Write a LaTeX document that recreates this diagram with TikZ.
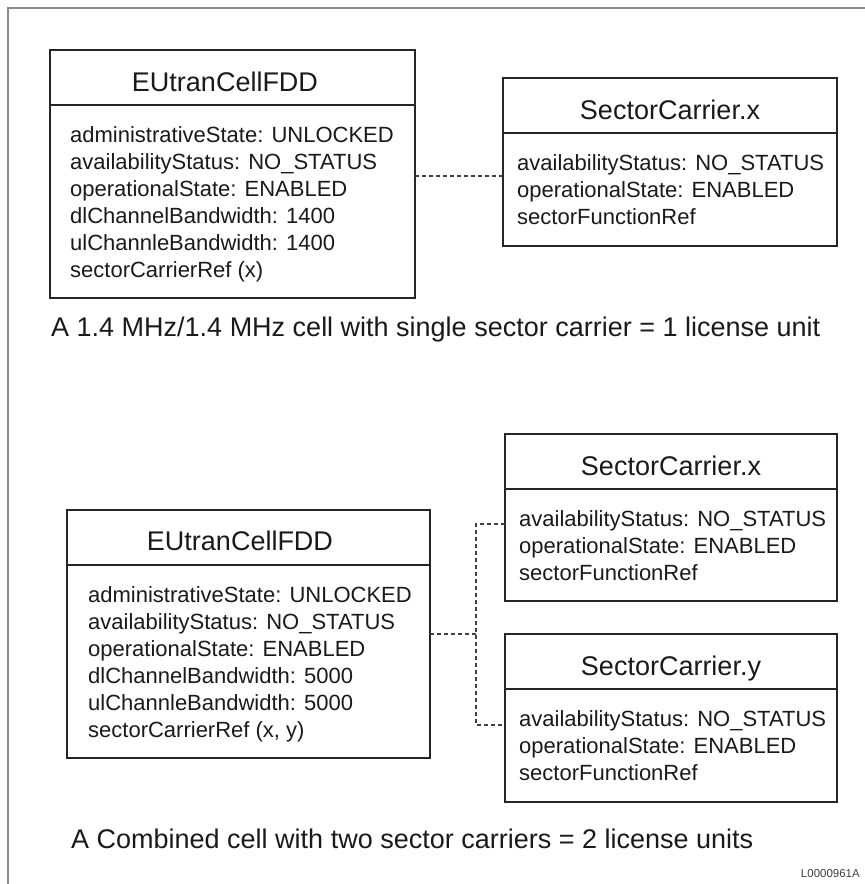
\documentclass[tikz,border=0pt]{standalone}
\usepackage{fontspec}
\setmainfont{Liberation Sans}
\usetikzlibrary{calc}

\definecolor{boxline}{HTML}{262626}
\definecolor{framec}{HTML}{8A8A8A}
\definecolor{linkc}{HTML}{404040}
\definecolor{txt}{HTML}{1A1A1A}

\tikzset{
  umlbox/.style={draw=boxline, line width=2pt, fill=white, inner sep=0pt,
    outer sep=0pt, anchor=north west},
  divider/.style={draw=boxline, line width=1.8pt},
  classname/.style={font=\fontsize{27}{31}\selectfont, text=txt, anchor=base, inner sep=0pt},
  attrs/.style={font=\fontsize{22}{27}\selectfont, text=txt, anchor=north west,
    align=left, inner sep=0pt},
  link/.style={draw=linkc, line width=2.6pt, dash pattern=on 4pt off 3pt},
  caption/.style={font=\fontsize{27}{31}\selectfont, text=txt, anchor=base west, inner sep=0pt},
  docid/.style={font=\fontsize{11.5}{13}\selectfont, text=linkc, anchor=base east, inner sep=0pt},
}

\begin{document}
\begin{tikzpicture}[x=1pt, y=-1pt]
  \useasboundingbox (0,0) rectangle (865,884);
  % outer frame (open on the right and bottom)
  \draw[framec, line width=2pt] (867,8) -- (8,8) -- (8,886);

  % ---- single sector carrier cell ----
  \node[umlbox, minimum width=365pt, minimum height=248pt] (cellA) at (50,50) {};
  \draw[divider] (cellA.west |- 0,105) -- (cellA.east |- 0,105);
  \node[classname] (cellAname) at (225,91) {EUtranCellFDD};
  \node[attrs] (cellAattr) at (70,126) {administrativeState: UNLOCKED\\
    availabilityStatus: NO\_STATUS\\
    operationalState: ENABLED\\
    dlChannelBandwidth: 1400\\
    ulChannleBandwidth: 1400\\
    sectorCarrierRef (x)};

  \node[umlbox, minimum width=334pt, minimum height=168pt] (scA) at (503,78) {};
  \draw[divider] (scA.west |- 0,133) -- (scA.east |- 0,133);
  \node[classname] (scAname) at (670,119) {SectorCarrier.x};
  \node[attrs] (scAattr) at (517,154) {availabilityStatus: NO\_STATUS\\
    operationalState: ENABLED\\
    sectorFunctionRef};

  % single connector
  \coordinate (aout) at ($(cellA.east)+(0,2)$);
  \draw[link] (aout) -- (aout -| scA.west);

  \node[caption] (capA) at (51,336)
    {A 1.4 MHz/1.4 MHz cell with single sector carrier = 1 license unit};

  % ---- combined cell with two sector carriers ----
  \node[umlbox, minimum width=363pt, minimum height=248pt] (cellB) at (67,510) {};
  \draw[divider] (cellB.west |- 0,565) -- (cellB.east |- 0,565);
  \node[classname] (cellBname) at (240,550) {EUtranCellFDD};
  \node[attrs] (cellBattr) at (88,586) {administrativeState: UNLOCKED\\
    availabilityStatus: NO\_STATUS\\
    operationalState: ENABLED\\
    dlChannelBandwidth: 5000\\
    ulChannleBandwidth: 5000\\
    sectorCarrierRef (x, y)};

  \node[umlbox, minimum width=332pt, minimum height=167pt] (scB) at (505,434) {};
  \draw[divider] (scB.west |- 0,489) -- (scB.east |- 0,489);
  \node[classname] (scBname) at (671,475) {SectorCarrier.x};
  \node[attrs] (scBattr) at (519,510) {availabilityStatus: NO\_STATUS\\
    operationalState: ENABLED\\
    sectorFunctionRef};

  \node[umlbox, minimum width=332pt, minimum height=168pt] (scC) at (505,634) {};
  \draw[divider] (scC.west |- 0,689) -- (scC.east |- 0,689);
  \node[classname] (scCname) at (671,675) {SectorCarrier.y};
  \node[attrs] (scCattr) at (519,710) {availabilityStatus: NO\_STATUS\\
    operationalState: ENABLED\\
    sectorFunctionRef};

  % branching connector
  \coordinate (jn) at (476,634);
  \coordinate (bin) at ($(scB.west)+(0,6.5)$);
  \coordinate (cin) at ($(scC.west)+(0,7)$);
  \draw[link] (cellB.east) -- (jn);
  \draw[link] (bin) -| (jn) |- (cin);

  \node[caption] (capB) at (71,848)
    {A Combined cell with two sector carriers = 2 license units};

  \node[docid] (id) at (860,877) {L0000961A};
\end{tikzpicture}
\end{document}
